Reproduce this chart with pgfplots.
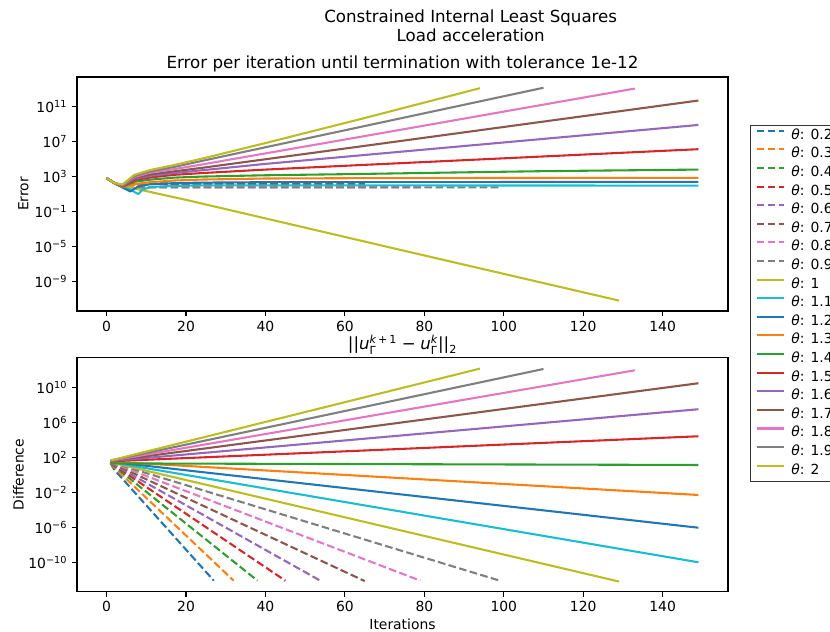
\documentclass[border=0pt]{standalone}
\usepackage{amsmath}
\usepackage{fontspec}
\setmainfont{DejaVu Sans}
\usepackage{pgfplots}
\pgfplotsset{compat=1.18}

% tab10 colour cycle
\definecolor{C0}{HTML}{1F77B4}
\definecolor{C1}{HTML}{FF7F0E}
\definecolor{C2}{HTML}{2CA02C}
\definecolor{C3}{HTML}{D62728}
\definecolor{C4}{HTML}{9467BD}
\definecolor{C5}{HTML}{8C564B}
\definecolor{C6}{HTML}{E377C2}
\definecolor{C7}{HTML}{7F7F7F}
\definecolor{C8}{HTML}{BCBD22}
\definecolor{C9}{HTML}{17BECF}

\pgfplotsset{
  panel/.style={
    scale only axis,
    width=468.72pt, height=168.48pt,
    xmin=-7.45, xmax=156.45,
    xtick={0,20,...,140},
    tick align=outside,
    major tick length=3.5pt,
    xtick pos=left, ytick pos=left,
    minor tick num=0,
    every tick/.style={black, line width=0.8pt},
    axis line style={line width=0.8pt},
    tick label style={font=\fontsize{10}{12}\selectfont},
    label style={font=\fontsize{10}{12}\selectfont},
    /pgf/number format/assume math mode=true,
    title style={font=\fontsize{12}{14}\selectfont, at={(0.5,1)}, anchor=base},
    every axis plot/.append style={line width=1.5pt, line join=round},
  },
  dsh/.style={dash pattern=on 5.55pt off 2.4pt},
}

\newcommand{\thl}[1]{\textit{θ}: #1}

\begin{document}
\begin{tikzpicture}

% suptitle
\node[font=\fontsize{12}{14}\selectfont, anchor=base] at (338.9pt,438.7pt) {Constrained Internal Least Squares};
\node[font=\fontsize{12}{14}\selectfont, anchor=base] at (338.9pt,425.5pt) {Load acceleration};

% ---------------- error per iteration (log10 of the error) ----------------
\begin{axis}[panel,
  at={(55.44pt,231.12pt)}, anchor=south west,
  ymin=-12.36, ymax=14.38,
  ytick={-9,-5,-1,3,7,11},
  yticklabels={10\textsuperscript{−9},10\textsuperscript{−5},10\textsuperscript{−1},10\textsuperscript{3},10\textsuperscript{7},10\textsuperscript{11}},
  ylabel={Error},
  ylabel style={at={(axis description cs:-0.0824,0.5)}, anchor=center},
  title={Error per iteration until termination with tolerance 1e-12},
  legend cell align=left,
  legend image code/.code={\draw[line width=1.5pt,#1] (0pt,3.6pt) -- (20pt,3.6pt);},
  legend style={at={(1.0338,0.7962)}, anchor=north west,
    draw=black!80, line width=0.7pt, fill=white,
    font=\fontsize{10}{12}\selectfont,
    inner xsep=3.6pt, inner ysep=2.6pt, row sep=3.4pt, column sep=4.4pt,
    nodes={inner sep=0pt, text height=7.5pt, text depth=2.5pt}},
]
\addplot[C0,dsh] coordinates {(0,2.82)(2,2.25)(4,1.95)(6,2.1)(10,2.2)(27,2.2)};
\addlegendentry{\thl{0.2}}
\addplot[C1,dsh] coordinates {(0,2.82)(2,2.25)(4,1.95)(6,2.1)(10,2.19)(32,2.19)};
\addlegendentry{\thl{0.3}}
\addplot[C2,dsh] coordinates {(0,2.82)(2,2.25)(4,1.95)(6,2.1)(10,2.18)(38,2.18)};
\addlegendentry{\thl{0.4}}
\addplot[C3,dsh] coordinates {(0,2.82)(2,2.25)(4,1.95)(6,2.1)(10,2.17)(45,2.17)};
\addlegendentry{\thl{0.5}}
\addplot[C4,dsh] coordinates {(0,2.82)(2,2.25)(4,1.95)(6,2.1)(10,2.16)(54,2.16)};
\addlegendentry{\thl{0.6}}
\addplot[C5,dsh] coordinates {(0,2.82)(2,2.25)(4,1.95)(6,2.1)(10,2.15)(65,2.15)};
\addlegendentry{\thl{0.7}}
\addplot[C6,dsh] coordinates {(0,2.82)(2,2.2)(4,1.85)(6,1.75)(10,1.78)(79,1.78)};
\addlegendentry{\thl{0.8}}
\addplot[C7,dsh] coordinates {(0,2.82)(2,2.2)(4,1.85)(6,1.72)(10,1.76)(99,1.76)};
\addlegendentry{\thl{0.9}}
\addplot[C8] coordinates {(0,2.82)(2,2.25)(4,1.95)(7,1.64)(20,0.34)(74,-5.38)(129,-11.17)};
\addlegendentry{\thl{1}}
\addplot[C9] coordinates {(0,2.82)(2,2.25)(4,1.8)(6,1.5)(8,0.99)(9,1.5)(11,1.8)(16,1.93)(24,2.0)(149,1.97)};
\addlegendentry{\thl{1.1}}
\addplot[C0] coordinates {(0,2.82)(2,2.25)(4,1.75)(6,1.3)(8,1.9)(11,2.13)(17,2.25)(24,2.31)(40,2.36)(149,2.39)};
\addlegendentry{\thl{1.2}}
\addplot[C1] coordinates {(0,2.82)(2,2.25)(4,1.8)(7,2.1)(11,2.36)(17,2.55)(24,2.66)(40,2.78)(64,2.82)(149,2.86)};
\addlegendentry{\thl{1.3}}
\addplot[C2] coordinates {(0,2.82)(2,2.25)(4,1.85)(7,2.4)(11,2.65)(17,2.88)(24,3.0)(40,3.15)(64,3.3)(85,3.45)(110,3.62)(149,3.8)};
\addlegendentry{\thl{1.4}}
\addplot[C3] coordinates {(0,2.82)(2,2.25)(4,1.88)(7,2.6)(11,2.9)(17,3.2)(24,3.4)(40,3.8)(64,4.32)(149,6.13)};
\addlegendentry{\thl{1.5}}
\addplot[C4] coordinates {(0,2.82)(2,2.25)(4,1.92)(7,2.75)(11,3.08)(17,3.4)(24,3.72)(40,4.45)(64,5.43)(149,8.9)};
\addlegendentry{\thl{1.6}}
\addplot[C5] coordinates {(0,2.82)(2,2.25)(4,1.95)(7,2.85)(11,3.25)(17,3.6)(24,4.0)(40,4.98)(64,6.45)(149,11.69)};
\addlegendentry{\thl{1.7}}
\addplot[C6] coordinates {(0,2.82)(2,2.25)(4,2.0)(7,2.95)(11,3.45)(17,3.85)(24,4.38)(40,5.65)(64,7.55)(133,13.06)};
\addlegendentry{\thl{1.8}}
\addplot[C7] coordinates {(0,2.82)(2,2.25)(4,2.05)(7,3.05)(11,3.6)(17,4.1)(24,4.79)(40,6.35)(64,8.68)(110,13.15)};
\addlegendentry{\thl{1.9}}
\addplot[C8] coordinates {(0,2.82)(2,2.25)(4,2.1)(7,3.2)(11,3.75)(17,4.32)(24,5.05)(40,6.83)(64,9.58)(94,13.1)};
\addlegendentry{\thl{2}}
\end{axis}

% ---------------- difference between iterates (log10) ----------------
\begin{axis}[panel,
  at={(55.44pt,29.02pt)}, anchor=south west,
  ymin=-13.36, ymax=13.38,
  ytick={-10,-6,-2,2,6,10},
  yticklabels={10\textsuperscript{−10},10\textsuperscript{−6},10\textsuperscript{−2},10\textsuperscript{2},10\textsuperscript{6},10\textsuperscript{10}},
  ylabel={Difference},
  ylabel style={at={(axis description cs:-0.0901,0.5)}, anchor=center},
  xlabel={Iterations},
  xlabel style={at={(axis description cs:0.5,0)}, anchor=base, yshift=-26.9pt},
  title={$\text{||}\textit{u}_{\text{Γ}}^{\textit{k}\,\text{+}\,\text{1}}\;\text{−}\;\textit{u}_{\text{Γ}}^{\textit{k}}\text{||}_{\text{2}}$},
]
\addplot[C0,dsh] coordinates {(1,1.3)(2,0.55)(27,-12.1)};
\addplot[C1,dsh] coordinates {(1,1.33)(2,0.8)(32,-12.1)};
\addplot[C2,dsh] coordinates {(1,1.36)(2,0.95)(38,-12.1)};
\addplot[C3,dsh] coordinates {(1,1.38)(2,1.05)(45,-12.1)};
\addplot[C4,dsh] coordinates {(1,1.4)(2,1.1)(54,-12.15)};
\addplot[C5,dsh] coordinates {(1,1.42)(2,1.18)(65,-12.15)};
\addplot[C6,dsh] coordinates {(1,1.44)(2,1.25)(79,-12.1)};
\addplot[C7,dsh] coordinates {(1,1.46)(2,1.3)(99,-12.1)};
\addplot[C8] coordinates {(1,1.42)(129,-12.2)};
\addplot[C9] coordinates {(1,1.45)(149,-10.0)};
\addplot[C0] coordinates {(1,1.48)(149,-6.05)};
\addplot[C1] coordinates {(1,1.5)(149,-2.31)};
\addplot[C2] coordinates {(1,1.3)(149,1.12)};
\addplot[C3] coordinates {(1,1.54)(149,4.4)};
\addplot[C4] coordinates {(1,1.56)(149,7.49)};
\addplot[C5] coordinates {(1,1.58)(149,10.46)};
\addplot[C6] coordinates {(1,1.6)(133,11.94)};
\addplot[C7] coordinates {(1,1.62)(110,12.09)};
\addplot[C8] coordinates {(1,1.64)(94,12.13)};
\end{axis}

\pgfresetboundingbox
\useasboundingbox (0pt,0pt) rectangle (597.6pt,455.04pt);
\end{tikzpicture}
\end{document}
